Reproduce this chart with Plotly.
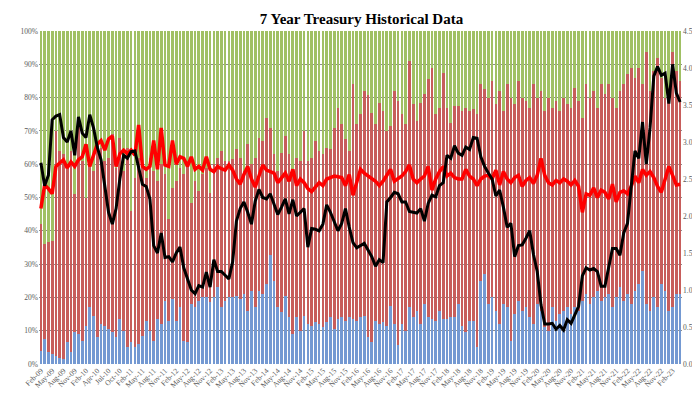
import plotly.graph_objects as go

tick_labels = ["Feb-09", "May-09", "Aug-09", "Nov-09", "Feb-10", "Apr-10", "Jul-10", "Oct-10",
               "Feb-11", "May-11", "Aug-11", "Nov-11", "Feb-12", "May-12", "Aug-12", "Nov-12",
               "Feb-13", "May-13", "Aug-13", "Nov-13", "Feb-14", "May-14", "Aug-14", "Nov-14",
               "Feb-15", "May-15", "Aug-15", "Nov-15", "Feb-16", "May-16", "Aug-16", "Nov-16",
               "Feb-17", "May-17", "Aug-17", "Nov-17", "Feb-18", "May-18", "Aug-18", "Nov-18",
               "Feb-19", "May-19", "Aug-19", "Nov-19", "Feb-20", "May-20", "Aug-20", "Nov-20",
               "Feb-21", "May-21", "Aug-21", "Nov-21", "Feb-22", "May-22", "Aug-22", "Nov-22",
               "Feb-23"]

right_ticks = [0.0, 0.5, 1.0, 1.5, 2.0, 2.5, 3.0, 3.5, 4.0, 4.5]
left_ticks = [0, 10, 20, 30, 40, 50, 60, 70, 80, 90, 100]

# Direct bidders, % of award (blue)
direct = [3.8, 7.5, 3.5, 3.0, 2.5, 1.8, 1.5, 6.5, 3.5, 9.5,
          9.0, 7.0, 11.5, 17.0, 14.5, 8.0, 12.0, 11.5, 10.5, 9.5,
          8.0, 13.5, 10.0, 5.0, 6.5, 5.0, 6.0, 8.5, 13.0, 10.0,
          7.0, 13.5, 12.0, 19.0, 13.0, 19.5, 13.0, 17.0, 7.0, 6.5,
          18.0, 17.0, 19.0, 20.0, 20.0, 18.5, 20.0, 23.0, 17.0, 19.0,
          20.0, 20.0, 20.5, 19.5, 21.0, 16.0, 22.0, 17.0, 22.0, 21.0,
          24.0, 32.7, 25.0, 17.0, 15.5, 20.5, 14.0, 9.0, 14.0, 10.0,
          14.5, 12.0, 11.5, 12.5, 12.0, 11.0, 12.5, 14.0, 10.5, 13.5,
          14.0, 13.0, 14.0, 13.5, 13.0, 14.0, 14.5, 8.0, 6.6, 13.0,
          12.0, 12.5, 11.5, 17.5, 12.0, 5.7, 12.0, 10.0, 17.0, 14.0,
          16.0, 12.0, 18.0, 14.0, 13.5, 13.0, 16.0, 13.5, 13.5, 14.0,
          14.0, 18.0, 11.5, 9.5, 13.0, 13.0, 5.0, 25.0, 27.0, 18.0,
          20.0, 16.0, 12.0, 18.0, 17.0, 7.0, 15.0, 19.0, 16.0, 17.0,
          14.0, 12.0, 18.0, 16.0, 11.0, 10.0, 17.0, 13.0, 15.0, 16.0,
          17.0, 15.0, 17.0, 16.0, 19.0, 21.0, 18.0, 20.0, 22.0, 19.0,
          20.0, 21.0, 17.0, 20.0, 23.0, 19.0, 21.0, 18.0, 22.0, 24.0,
          28.0, 18.0, 16.0, 20.0, 17.0, 24.0, 22.0, 16.0, 17.0, 21.0,
          21.0]

# Primary dealers, % of award (green)
dealers = [58.0, 64.0, 63.5, 63.0, 30.0, 36.0, 37.0, 41.0, 36.0, 49.0,
           28.0, 39.0, 50.0, 40.0, 42.0, 36.0, 35.0, 39.0, 38.0, 31.0,
           41.0, 32.0, 42.0, 35.0, 54.0, 44.0, 38.0, 41.0, 44.0, 38.0,
           42.0, 45.0, 40.0, 43.0, 56.5, 47.0, 45.0, 41.0, 43.0, 39.0,
           51.5, 45.0, 48.0, 43.0, 41.0, 48.5, 40.0, 38.0, 36.0, 39.0,
           39.0, 38.5, 35.4, 38.0, 42.0, 34.0, 40.0, 38.0, 32.0, 33.0,
           26.0, 29.0, 37.0, 42.0, 36.5, 31.5, 37.0, 43.0, 38.0, 39.0,
           30.0, 39.0, 38.0, 33.0, 36.0, 37.0, 35.0, 35.5, 29.0, 23.0,
           28.0, 32.5, 36.0, 16.0, 28.0, 25.0, 18.0, 19.3, 24.5, 28.0,
           21.5, 24.0, 30.0, 28.5, 18.0, 21.0, 25.0, 28.0, 9.0, 22.0,
           27.0, 21.5, 19.0, 14.5, 11.0, 25.0, 23.0, 12.5, 23.0, 27.5,
           22.5, 22.5, 24.0, 23.0, 24.0, 23.5, 25.0, 16.0, 17.5, 20.0,
           15.0, 22.0, 18.0, 24.0, 16.0, 20.0, 22.0, 15.0, 20.0, 21.0,
           23.0, 16.0, 20.0, 18.0, 24.0, 20.0, 23.0, 21.0, 24.0, 20.0,
           22.0, 23.0, 17.0, 21.0, 26.0, 16.0, 20.0, 18.0, 23.0, 16.0,
           19.0, 16.0, 20.0, 23.0, 18.0, 16.0, 13.0, 11.0, 14.0, 11.0,
           16.0, 6.4, 18.0, 12.0, 8.2, 14.0, 20.0, 17.0, 6.4, 12.0,
           15.0]

# Auction high yield, % (black, right axis)
high_yield = [2.72, 2.41, 2.55, 3.30, 3.35, 3.37, 3.06, 3.00, 3.15, 2.82,
              3.34, 3.12, 3.06, 3.37, 3.19, 2.93, 2.76, 2.40, 2.05, 1.89,
              2.10, 2.50, 2.82, 2.78, 2.87, 2.88, 2.67, 2.43, 2.40, 2.23,
              1.60, 1.50, 1.77, 1.44, 1.45, 1.38, 1.50, 1.58, 1.30, 1.15,
              1.00, 0.95, 1.06, 1.04, 1.24, 1.04, 1.41, 1.25, 1.25, 1.20,
              1.15, 1.38, 1.93, 2.10, 2.19, 2.05, 1.89, 2.20, 2.36, 2.25,
              2.23, 2.30, 2.15, 2.02, 2.12, 2.23, 2.03, 2.22, 2.00, 2.05,
              2.10, 1.58, 1.83, 1.82, 1.80, 1.89, 2.15, 2.05, 1.92, 1.80,
              1.90, 2.10, 1.85, 1.64, 1.57, 1.60, 1.63, 1.54, 1.45, 1.32,
              1.41, 1.37, 2.19, 2.25, 2.32, 2.30, 2.19, 2.19, 2.06, 2.05,
              2.04, 2.10, 1.93, 2.17, 2.28, 2.26, 2.41, 2.45, 2.82, 2.78,
              2.95, 2.85, 2.82, 2.93, 2.90, 3.06, 3.05, 2.80, 2.67, 2.58,
              2.50, 2.27, 2.35, 2.12, 1.85, 1.90, 1.45, 1.60, 1.61, 1.70,
              1.80, 1.48, 1.25, 0.80, 0.54, 0.54, 0.55, 0.47, 0.52, 0.46,
              0.60, 0.55, 0.67, 0.78, 1.19, 1.30, 1.27, 1.29, 1.25, 1.05,
              1.05, 1.30, 1.56, 1.56, 1.47, 1.77, 1.90, 2.40, 2.88, 2.78,
              3.27, 2.70, 3.19, 3.89, 4.02, 3.90, 3.93, 3.52, 4.05, 3.66,
              3.54]

# Bid to cover ratio (red line, right axis)
bid_to_cover = [2.10, 2.42, 2.37, 2.30, 2.67, 2.72, 2.76, 2.65, 2.73, 2.67,
                2.76, 2.80, 2.97, 2.67, 2.84, 2.97, 3.02, 2.89, 3.04, 3.08,
                2.67, 2.84, 2.89, 2.84, 2.89, 2.82, 3.23, 2.67, 2.63, 2.67,
                3.02, 2.63, 3.19, 2.69, 2.67, 3.02, 2.70, 2.80, 2.78, 2.67,
                2.80, 2.63, 2.67, 2.62, 2.80, 2.63, 2.60, 2.67, 2.64, 2.62,
                2.69, 2.62, 2.50, 2.43, 2.56, 2.67, 2.50, 2.39, 2.54, 2.69,
                2.62, 2.60, 2.58, 2.45, 2.52, 2.58, 2.47, 2.63, 2.41, 2.50,
                2.45, 2.37, 2.33, 2.40, 2.45, 2.41, 2.50, 2.52, 2.54, 2.53,
                2.52, 2.41, 2.56, 2.28, 2.45, 2.63, 2.58, 2.54, 2.50, 2.47,
                2.41, 2.47, 2.55, 2.63, 2.47, 2.50, 2.54, 2.60, 2.69, 2.50,
                2.45, 2.50, 2.54, 2.67, 2.35, 2.50, 2.60, 2.67, 2.54, 2.58,
                2.52, 2.50, 2.50, 2.63, 2.54, 2.50, 2.41, 2.50, 2.54, 2.55,
                2.50, 2.62, 2.42, 2.60, 2.50, 2.45, 2.52, 2.55, 2.40, 2.48,
                2.52, 2.44, 2.55, 2.78, 2.55, 2.45, 2.42, 2.48, 2.45, 2.50,
                2.47, 2.42, 2.48, 2.40, 2.05, 2.30, 2.28, 2.38, 2.25, 2.35,
                2.32, 2.23, 2.43, 2.19, 2.32, 2.34, 2.30, 2.40, 2.54, 2.45,
                2.63, 2.55, 2.60, 2.52, 2.40, 2.32, 2.48, 2.67, 2.55, 2.42,
                2.43]

n = len(direct)
x = list(range(n))
indirect = [100 - d - g for d, g in zip(direct, dealers)]

fig = go.Figure()
fig.add_bar(x=x, y=direct, name="Directs", marker=dict(color="#7499D2", line=dict(width=0)))
fig.add_bar(x=x, y=indirect, name="Indirects", marker=dict(color="#C75D5B", line=dict(width=0)))
fig.add_bar(x=x, y=dealers, name="Dealers", marker=dict(color="#A0C064", line=dict(width=0)))
fig.add_scatter(x=x, y=bid_to_cover, yaxis="y2", mode="lines", name="Bid to Cover",
                line=dict(color="#FF0000", width=3.5))
fig.add_scatter(x=x, y=high_yield, yaxis="y2", mode="lines", name="High Yield",
                line=dict(color="#000000", width=3))

tick_font = dict(family="Liberation Serif", size=7.5, color="#595959")

fig.update_layout(
    width=700, height=394,
    margin=dict(l=27, r=26, t=23, b=26),
    paper_bgcolor="white", plot_bgcolor="white",
    barmode="stack", bargap=0.28,
    showlegend=False,
    title=dict(text="<b>7 Year Treasury Historical Data</b>", x=0.505, xanchor="center",
               y=0.985, yanchor="top",
               font=dict(family="Liberation Serif", size=15, color="#000000")),
    xaxis=dict(range=[-0.5, n - 0.5], tickmode="array",
               tickvals=[3 * i for i in range(len(tick_labels))], ticktext=tick_labels,
               tickangle=-45, tickfont=tick_font, showgrid=False, ticks="", zeroline=False),
    yaxis=dict(range=[0, 100], tickmode="array", tickvals=left_ticks,
               ticktext=[f"{v}%" for v in left_ticks], tickfont=tick_font,
               showgrid=True, gridcolor="#8c8c8c", gridwidth=0.5, zeroline=False, ticks=""),
    yaxis2=dict(range=[0, 4.5], tickmode="array", tickvals=right_ticks,
                ticktext=[f"{v:.2f}" for v in right_ticks], tickfont=tick_font,
                ticklabeloverflow="allow",
                overlaying="y", side="right", showgrid=False, zeroline=False, ticks=""),
)

fig.write_html("out.html")
